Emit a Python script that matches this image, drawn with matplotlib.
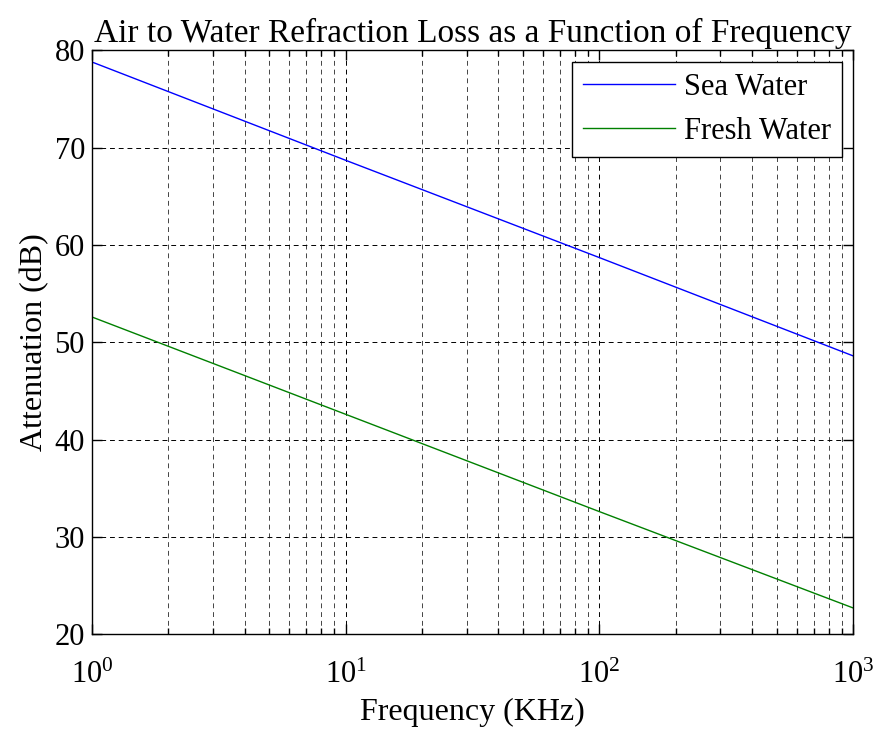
import numpy as np
import matplotlib.pyplot as plt
from matplotlib.ticker import LogLocator, NullFormatter

plt.rcParams['font.family'] = ['Liberation Serif', 'DejaVu Serif']
plt.rcParams['mathtext.fontset'] = 'custom'
plt.rcParams['mathtext.rm'] = 'Liberation Serif'
plt.rcParams['mathtext.it'] = 'Liberation Serif:italic'

# values at each decade
freq_khz = [1, 10, 100, 1000]
sea_water = [78.8, 68.7, 58.7, 48.6]
fresh_water = [52.6, 42.6, 32.6, 22.7]

fig = plt.figure(figsize=(8.75, 7.29), dpi=100)
ax = fig.add_axes([0.105, 0.130, 0.870, 0.801])

ax.plot(freq_khz, sea_water, color=(0, 0, 1), lw=1.0, label='Sea Water')
ax.plot(freq_khz, fresh_water, color=(0, 0.5, 0), lw=1.0, label='Fresh Water')

ax.set_xscale('log')
ax.set_xlim(1, 1000)
ax.set_ylim(20, 80)
ax.set_yticks([20, 30, 40, 50, 60, 70, 80])
ax.xaxis.set_major_locator(LogLocator(base=10))
ax.xaxis.set_minor_locator(LogLocator(base=10, subs=np.arange(2, 10)))
ax.xaxis.set_minor_formatter(NullFormatter())

ax.grid(True, which='major', axis='both', color='black', linestyle=(0, (5, 4)), lw=0.7)
ax.grid(True, which='minor', axis='x', color='#444444', linestyle=(0, (5, 4)), lw=0.7)

ax.tick_params(which='both', direction='in', top=True, right=True, labelsize=22, width=1)
ax.tick_params(which='major', length=7)
ax.tick_params(which='minor', length=4)
ax.tick_params(axis='x', pad=19)
ax.tick_params(axis='y', pad=5)
for s in ax.spines.values():
    s.set_linewidth(1.0)

ax.set_xlabel('Frequency (KHz)', size=23, labelpad=6)
ax.set_ylabel('Attenuation (dB)', size=23, labelpad=4)
ax.set_title('Air to Water Refraction Loss as a Function of Frequency', size=24, pad=6)

leg = ax.legend(loc='upper right', fontsize=22, fancybox=False, framealpha=1,
                edgecolor='black', handlelength=3.0, handletextpad=0.3,
                borderaxespad=0.38, labelspacing=0.5, borderpad=0.35)
leg.get_frame().set_linewidth(1.0)

fig.savefig('out.png', dpi=100)
